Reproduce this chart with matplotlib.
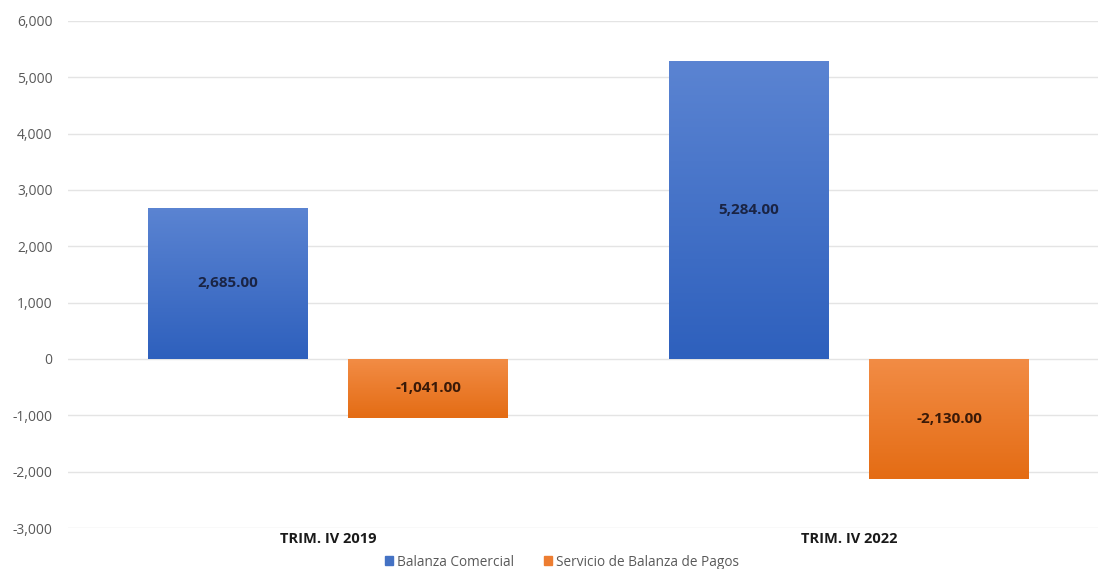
import numpy as np
import matplotlib.pyplot as plt
from matplotlib.colors import LinearSegmentedColormap
from matplotlib.patches import Patch

plt.rcParams['font.family'] = ['Open Sans', 'DejaVu Sans']

categories = ['TRIM. IV 2019', 'TRIM. IV 2022']
balanza_comercial = [2685.00, 5284.00]
servicio_balanza = [-1041.00, -2130.00]
series_names = ['Balanza Comercial', 'Servicio de Balanza de Pagos']
yticks = np.arange(-3000, 6001, 1000)

fig = plt.figure(figsize=(10.98, 5.69), dpi=100)
ax = fig.add_axes([68 / 1098, 41 / 569, 1030 / 1098, 507 / 569])

x = np.arange(len(categories))
width = 0.307
offset = 0.192

blue_cmap = LinearSegmentedColormap.from_list('b', ['#5B84D2', '#2E60BD'])
orange_cmap = LinearSegmentedColormap.from_list('o', ['#F28C45', '#E46C14'])

def gradient_bars(xs, vals, cmap, solid):
    bars = ax.bar(xs, vals, width, color=solid, zorder=2)
    grad = np.linspace(0, 1, 256).reshape(-1, 1)
    for b in bars:
        x0, y0 = b.get_x(), b.get_y()
        w, h = b.get_width(), b.get_height()
        top, bot = max(y0, y0 + h), min(y0, y0 + h)
        im = ax.imshow(grad, cmap=cmap, aspect='auto', extent=[x0, x0 + w, bot, top],
                       origin='upper', zorder=3)
        im.set_clip_path(b)
    return bars

gradient_bars(x - offset, balanza_comercial, blue_cmap, '#4472C4')
gradient_bars(x + offset, servicio_balanza, orange_cmap, '#ED7D31')

# value labels in the middle of each bar
for xs, vals, col in [(x - offset, balanza_comercial, '#1a2444'), (x + offset, servicio_balanza, '#3a1a08')]:
    for xi, v in zip(xs, vals):
        ax.text(xi, v / 2, f'{v:,.2f}', ha='center', va='center', fontsize=11,
                fontweight='bold', color=col, zorder=4)

ax.set_xlim(-0.499, 1.478)
ax.set_ylim(-3000, 6000)
ax.set_yticks(yticks)
ax.set_yticklabels([f'{t:,}' for t in yticks], color='#595959', fontsize=10)
ax.yaxis.grid(True, color='#E4E4E4', linewidth=1, zorder=0)
ax.set_axisbelow(True)
ax.tick_params(axis='y', length=0, pad=11)
ax.tick_params(axis='x', length=0, pad=3)
ax.set_xticks(x)
ax.set_xticklabels(categories, fontweight='bold', fontsize=10.5, color='#1a1a1a')
for s in ax.spines.values():
    s.set_visible(False)

handles = [Patch(color='#4472C4'), Patch(color='#ED7D31')]
fig.legend(handles, series_names, loc='center', bbox_to_anchor=(562 / 1098, 1 - 562 / 569),
           ncol=2, frameon=False, fontsize=9.8, handlelength=0.6, handleheight=0.6,
           handletextpad=0.3, columnspacing=2.2, labelcolor='#595959')

fig.savefig('out.png', dpi=100)
